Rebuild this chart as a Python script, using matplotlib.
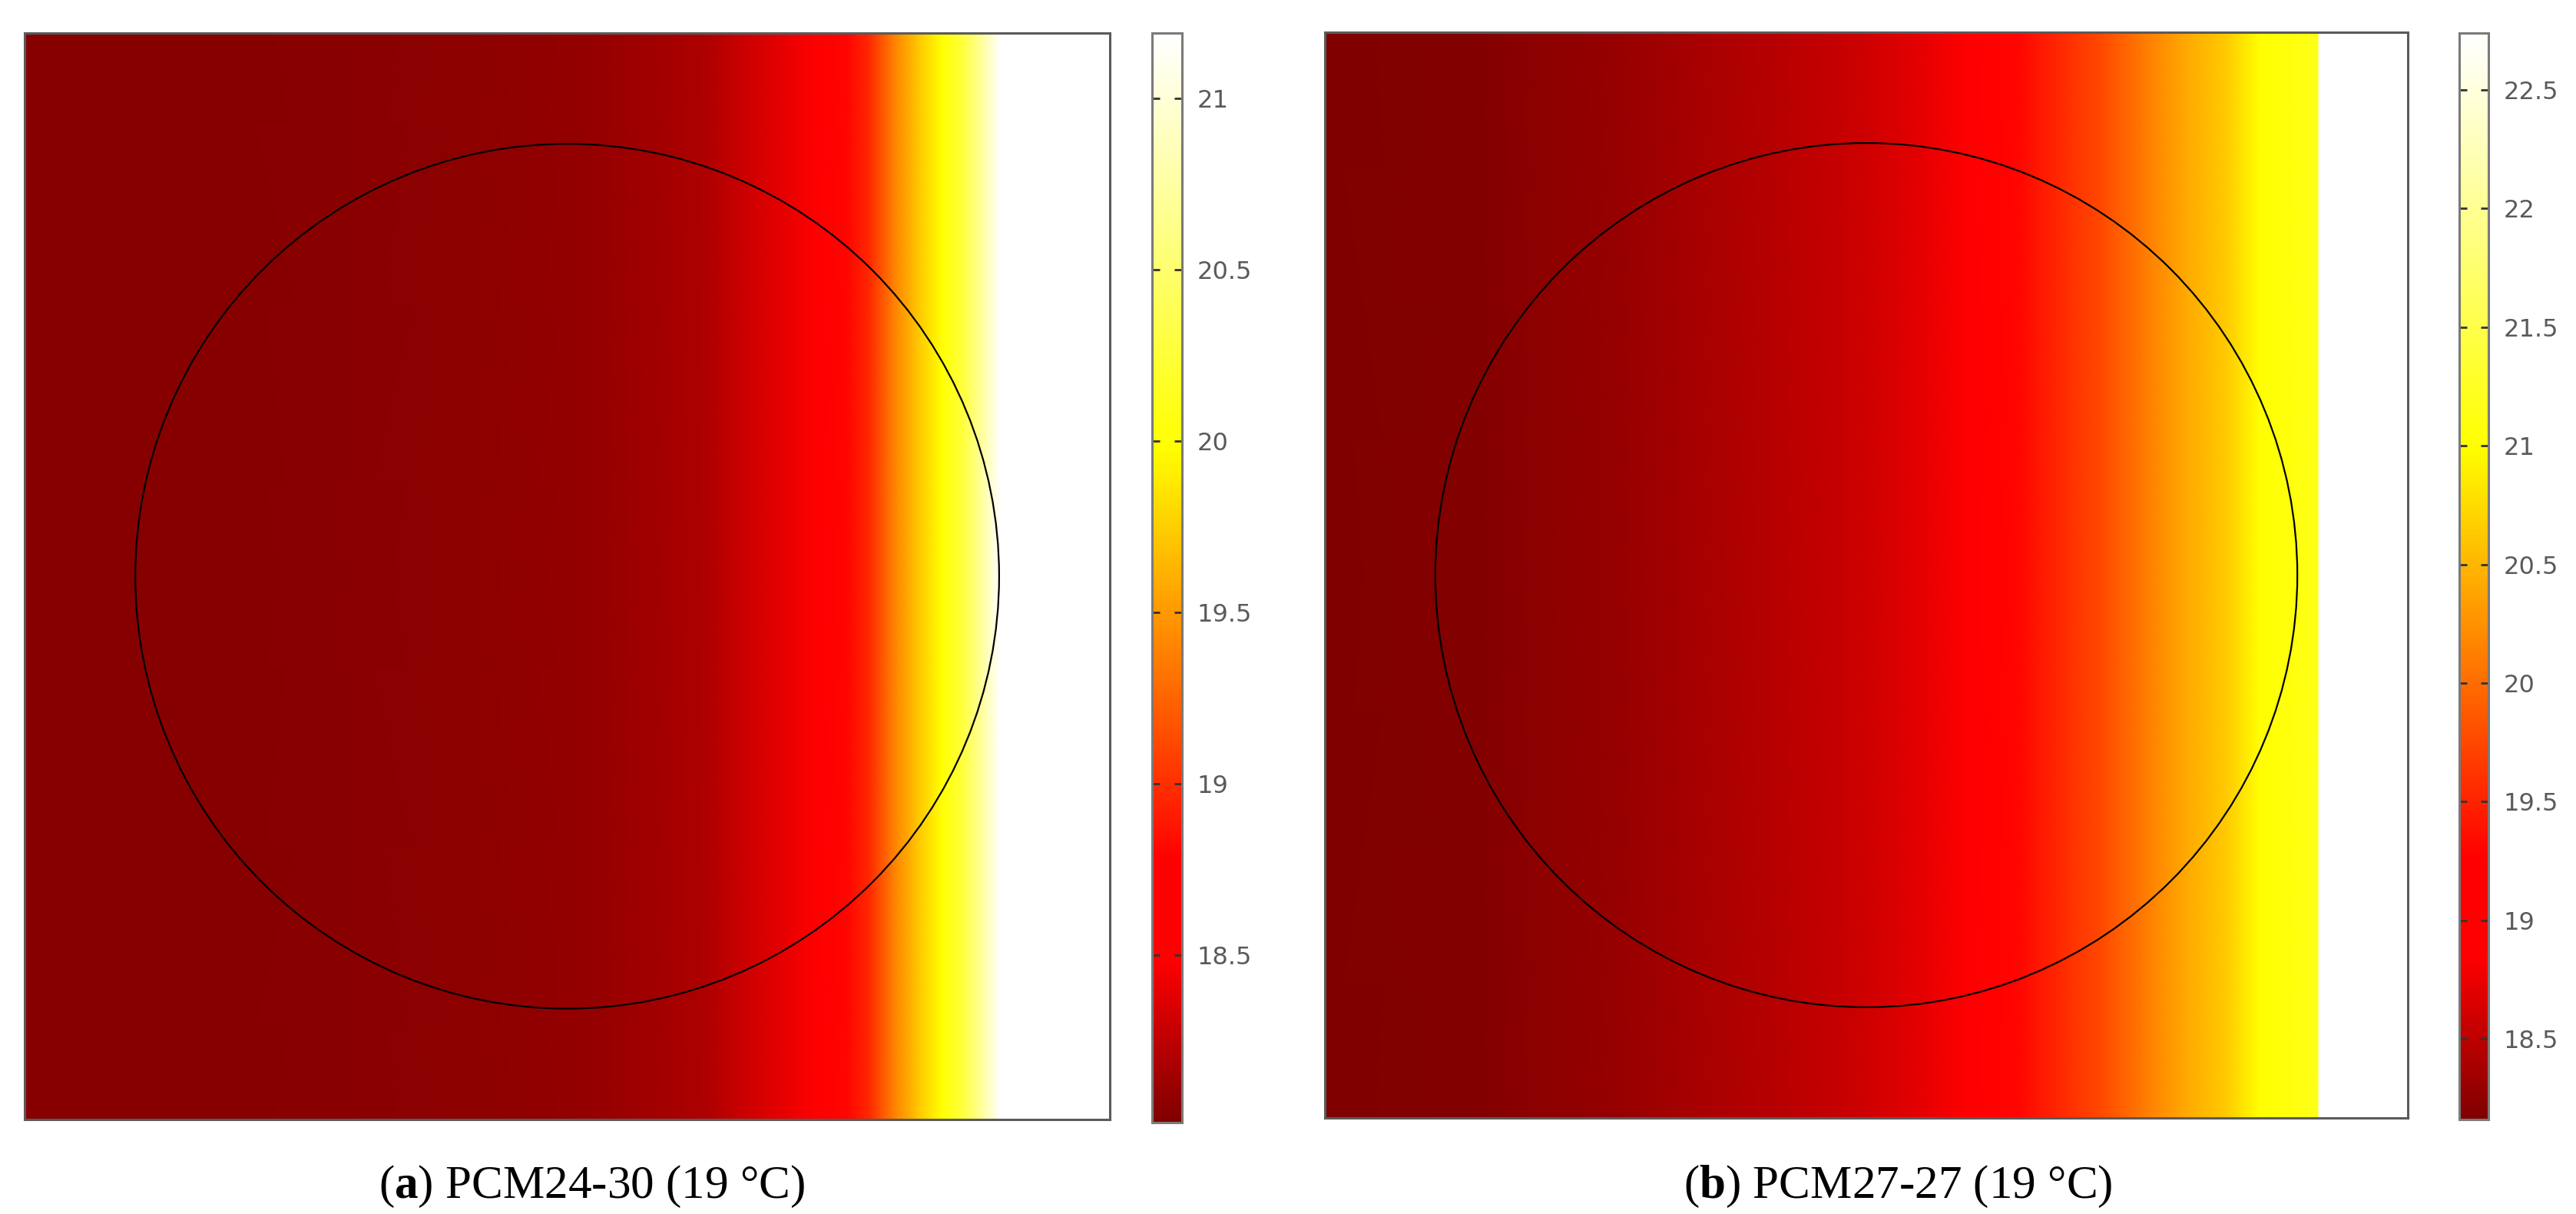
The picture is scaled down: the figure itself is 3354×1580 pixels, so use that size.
import numpy as np
import matplotlib
matplotlib.use("Agg")
import matplotlib.pyplot as plt
from matplotlib.colors import LinearSegmentedColormap, Normalize
from matplotlib.cm import ScalarMappable
from matplotlib.patches import Circle

# ---------------- data ----------------
# normalized horizontal position across each panel and temperature (°C)
x_a = [0.0, 0.194, 0.411, 0.519, 0.592, 0.628, 0.664, 0.700, 0.729, 0.758,
       0.779, 0.801, 0.823, 0.845, 0.866, 0.884, 0.899, 1.0]
T_a = [18.035, 18.045, 18.06, 18.09, 18.15, 18.19, 18.30, 18.40, 18.60, 18.80,
       18.97, 19.38, 19.70, 19.98, 20.30, 20.78, 21.19, 21.19]

x_b = [0.0, 0.140, 0.178, 0.255, 0.332, 0.409, 0.486, 0.548, 0.594, 0.640,
       0.686, 0.717, 0.755, 0.794, 0.832, 0.863, 0.909, 0.917, 0.918, 1.0]
T_b = [18.16, 18.18, 18.22, 18.28, 18.36, 18.46, 18.57, 18.70, 18.94, 19.30,
       19.58, 19.76, 20.08, 20.40, 20.63, 21.00, 21.14, 21.16, 22.74, 22.74]

range_a = (18.01, 21.19)
range_b = (18.16, 22.74)
ticks_a = [18.5, 19, 19.5, 20, 20.5, 21]
ticks_b = [18.5, 19, 19.5, 20, 20.5, 21, 21.5, 22, 22.5]
circle_center = (0.5, 0.5)
circle_radius = 0.398

captions = [("a", "PCM24-30 (19 °C)"), ("b", "PCM27-27 (19 °C)")]

# ---------------- style ----------------
plt.rcParams["mathtext.fontset"] = "custom"
plt.rcParams["mathtext.rm"] = "Liberation Serif"
plt.rcParams["mathtext.bf"] = "Liberation Serif:bold"

cmap = LinearSegmentedColormap.from_list(
    "thermal_light",
    [(0.0, "#800000"), (0.15, "#ff0000"), (0.24, "#ff0000"),
     (0.62, "#ffff00"), (1.0, "#ffffff")])

W, H = 3354, 1580
fig = plt.figure(figsize=(W / 100, H / 100), dpi=100)


def fx(px):
    return px / W


def fy(py):
    return 1 - py / H


def panel(rect_px, cbar_px, xs, Ts, rng, ticks, cap, cap_x):
    l, t, r, b = rect_px
    ax = fig.add_axes([fx(l), fy(b), fx(r - l), (b - t) / H])
    norm = Normalize(vmin=rng[0], vmax=rng[1])
    xs = np.asarray(xs)
    C = np.vstack([Ts, Ts])
    ax.pcolormesh(xs, [0, 1], C, shading="gouraud", cmap=cmap, norm=norm)
    ax.add_patch(Circle(circle_center, circle_radius, fill=False,
                        ec="black", lw=1.6, zorder=3))
    ax.set_xlim(0, 1)
    ax.set_ylim(0, 1)
    ax.set_xticks([])
    ax.set_yticks([])
    for s in ax.spines.values():
        s.set_color("#5a5a5a")
        s.set_linewidth(2.2)

    cl, ct, cr, cb = cbar_px
    cax = fig.add_axes([fx(cl), fy(cb), fx(cr - cl), (cb - ct) / H])
    sm = ScalarMappable(norm=norm, cmap=cmap)
    cbar = fig.colorbar(sm, cax=cax)
    cbar.set_ticks(ticks)
    cbar.set_ticklabels([f"{v:g}" for v in ticks])
    cbar.outline.set_edgecolor("#7a7a7a")
    cbar.outline.set_linewidth(2.2)
    cax.tick_params(axis="y", which="major", direction="in", left=True,
                    right=True, length=7, width=2, color="#333333",
                    labelsize=23, labelcolor="#5a5a5a", pad=14)
    cax.minorticks_off()

    fig.text(fx(cap_x), fy(1559), rf"($\mathbf{{{cap[0]}}}$) {cap[1]}",
             ha="center", va="baseline", fontsize=44,
             family="Liberation Serif", color="black")


panel((32, 43, 1445, 1457), (1500, 43, 1539, 1461), x_a, T_a, range_a,
      ticks_a, captions[0], 771)
panel((1725, 42, 3135, 1455), (3202, 43, 3240, 1457), x_b, T_b, range_b,
      ticks_b, captions[1], 2471)

fig.savefig("out.png", dpi=100, facecolor="white")
